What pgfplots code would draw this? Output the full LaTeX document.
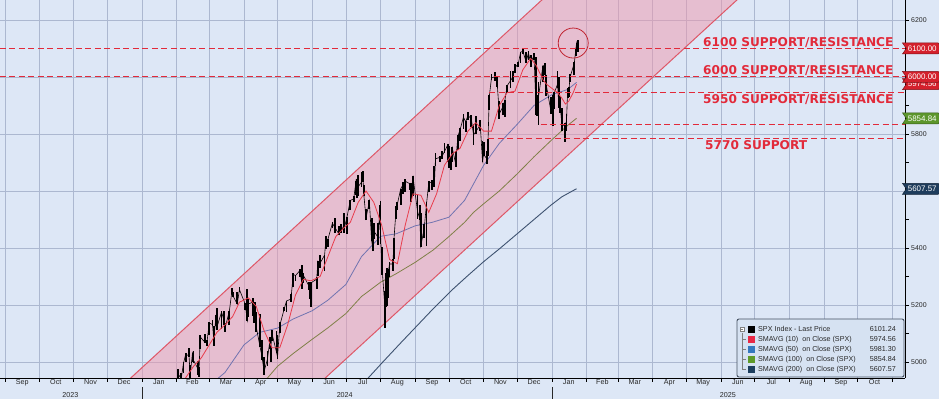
\documentclass[border=0pt]{standalone}
\usepackage{pgfplots}
\pgfplotsset{compat=1.18}
\usepackage{pgfplotstable}
\usepackage{fontspec}
\setmainfont{Liberation Sans}
\newfontfamily\dvs{DejaVu Sans}
\usetikzlibrary{shapes.symbols}
\definecolor{bgc}{RGB}{221,231,246}
\definecolor{gridc}{RGB}{172,184,208}
\definecolor{bandfill}{RGB}{240,150,172}
\definecolor{bandline}{RGB}{222,88,104}
\definecolor{sr}{RGB}{226,42,58}
\definecolor{sma10}{RGB}{232,60,76}
\definecolor{sma50}{RGB}{112,116,176}
\definecolor{sma100}{RGB}{128,128,72}
\definecolor{sma200}{RGB}{62,82,112}
\definecolor{tagred}{RGB}{212,32,44}
\definecolor{taggreen}{RGB}{92,150,44}
\definecolor{tagnavy}{RGB}{30,60,92}
\definecolor{legblue}{RGB}{52,120,190}
\definecolor{leggreen}{RGB}{94,155,42}
\definecolor{legnavy}{RGB}{28,62,94}
\definecolor{legred}{RGB}{232,40,70}
\definecolor{legbg}{RGB}{214,226,242}
\definecolor{legframe}{RGB}{70,82,98}
\definecolor{txt}{RGB}{40,40,40}

\pgfplotstableread{
d c h l
28 4928 4929 4887
30 4846 4932 4845
31 4906 4906 4853
32 4959 4975 4907
35 4942 4963 4918
37 4995 4999 4963
39 5027 5030 4999
42 5022 5048 5016
43 4953 4989 4920
45 5030 5032 4999
46 5006 5039 4998
50 4976 5002 4954
51 4982 4983 4946
52 5088 5094 5045
56 5070 5097 5068
58 5069 5077 5058
60 5137 5140 5094
63 5131 5149 5127
64 5079 5127 5057
66 5157 5165 5128
67 5124 5190 5114
71 5175 5179 5115
73 5150 5180 5129
74 5117 5136 5104
78 5179 5180 5131
80 5241 5261 5240
81 5234 5246 5229
85 5203 5246 5203
87 5254 5264 5246
92 5205 5208 5184
94 5147 5256 5146
95 5204 5222 5157
99 5210 5224 5160
100 5161 5178 5138
101 5199 5211 5139
102 5123 5175 5107
105 5061 5168 5052
107 5022 5077 5007
109 4967 5019 4953
112 5010 5038 4987
114 5071 5089 5047
115 5048 5057 5001
116 5100 5114 5073
120 5036 5110 5035
121 5018 5096 5011
123 5128 5139 5102
127 5187 5192 5178
129 5214 5215 5177
133 5221 5238 5209
135 5308 5311 5263
137 5303 5305 5283
141 5321 5325 5297
143 5268 5341 5257
144 5305 5311 5279
149 5267 5282 5254
150 5235 5280 5222
151 5278 5280 5192
156 5291 5298 5257
157 5354 5355 5303
159 5347 5375 5331
163 5375 5376 5320
164 5421 5441 5398
166 5431 5432 5403
170 5487 5490 5471
172 5473 5505 5451
176 5448 5478 5447
178 5478 5483 5452
180 5460 5523 5451
183 5509 5510 5448
186 5567 5570 5535
189 5572 5583 5562
191 5633 5635 5586
192 5585 5642 5576
193 5615 5655 5584
196 5631 5666 5614
197 5667 5669 5632
198 5588 5622 5584
200 5505 5538 5497
203 5564 5570 5536
205 5427 5505 5425
206 5399 5481 5391
207 5459 5488 5430
211 5436 5487 5412
212 5522 5551 5491
213 5446 5566 5414
214 5347 5403 5306
217 5186 5250 5120
218 5240 5312 5193
219 5199 5330 5195
220 5319 5328 5224
221 5344 5351 5300
224 5344 5360 5318
225 5434 5435 5360
227 5543 5546 5502
228 5554 5563 5535
231 5608 5608 5550
233 5621 5633 5591
235 5634 5642 5596
239 5626 5628 5602
240 5592 5628 5561
242 5648 5651 5582
246 5528 5585 5503
248 5503 5552 5499
249 5408 5522 5402
252 5471 5484 5434
254 5554 5560 5406
256 5627 5636 5595
259 5633 5637 5604
261 5618 5689 5615
262 5713 5733 5686
266 5718 5722 5701
268 5722 5741 5712
270 5738 5767 5733
273 5762 5765 5703
274 5709 5757 5681
276 5700 5718 5673
277 5751 5753 5703
280 5696 5739 5683
282 5792 5796 5745
284 5815 5822 5775
287 5859 5871 5819
289 5842 5846 5808
291 5865 5878 5849
294 5853 5866 5824
296 5797 5835 5762
298 5808 5862 5799
302 5832 5848 5811
304 5705 5775 5703
305 5729 5772 5723
308 5712 5741 5696
309 5782 5783 5724
310 5929 5936 5884
312 5996 6012 5991
315 6001 6018 5985
317 5985 5999 5965
319 5871 5915 5854
322 5894 5909 5866
324 5918 5920 5860
326 5969 5973 5944
329 5987 6020 5963
331 5999 6020 5984
333 6032 6044 6014
336 6047 6053 6034
338 6087 6087 6050
340 6090 6099 6079
343 6053 6088 6048
345 6084 6092 6058
347 6051 6078 6035
350 6074 6085 6059
352 5872 6070 5867
353 5867 5935 5865
354 5931 5982 5832
358 6040 6040 5983
360 6038 6049 6007
361 5971 6006 5932
365 5882 5929 5869
367 5869 5936 5829
368 5942 5949 5888
371 5975 6021 5960
372 5909 6000 5890
373 5918 5928 5875
375 5827 5890 5809
378 5836 5837 5773
379 5843 5871 5811
380 5950 5960 5926
381 5937 5965 5930
382 5997 6012 5984
386 6049 6052 6006
387 6086 6100 6073
388 6119 6119 6075
389 6101 6128 6088
}\price

\pgfplotstableread{
d v
32 4890
39 4945
46 4985
53 5015
60 5060
67 5105
74 5130
81 5160
87 5210
95 5225
102 5195
109 5110
116 5050
123 5050
130 5130
137 5235
144 5290
151 5285
159 5300
166 5370
173 5440
180 5470
186 5490
193 5560
200 5600
207 5560
214 5480
221 5360
228 5345
235 5480
242 5590
249 5585
256 5525
263 5590
270 5690
277 5730
284 5750
291 5810
298 5840
305 5810
312 5810
319 5900
326 5945
333 5950
340 6025
347 6065
352 6040
358 5990
361 5975
366 5960
371 5945
375 5925
378 5905
381 5915
385 5945
388 5975
}\smaten

\pgfplotstableread{
d v
55 4910
67 4940
74 4963
91 5060
105 5104
121 5119
135 5151
152 5180
166 5217
182 5272
196 5370
213 5441
227 5450
244 5478
259 5490
274 5508
288 5567
305 5690
319 5767
335 5834
350 5900
366 5938
380 5956
388 5981
}\smafifty

\pgfplotstableread{
d v
100 4925
112 4944
121 4985
135 5030
152 5080
166 5120
182 5170
196 5230
213 5280
227 5310
244 5350
260 5393
274 5440
288 5490
296 5525
305 5555
319 5600
335 5660
350 5720
366 5780
380 5830
388 5855
}\smahundred

\pgfplotstableread{
d v
190 4915
201 4940
215 5000
230 5063
245 5125
260 5187
276 5250
290 5300
305 5352
320 5400
335 5450
350 5500
365 5550
375 5580
388 5608
}\smatwohundred

\begin{document}
\begin{tikzpicture}
\useasboundingbox (0,0) rectangle (939bp,399bp);
\fill[bgc] (0,0) rectangle (939bp,399bp);
\begin{axis}[
 at={(0,21bp)}, anchor=south west, scale only axis, width=905bp, height=378bp,
 xmin=-126.8, xmax=681.25, ymin=4944, ymax=6270,
 axis x line*=bottom, axis y line*=right,
 axis line style={black, line width=0.8bp},
 xtick={-122,-92,-61,-31,0,31,60,91,121,152,182,213,244,274,305,335,366,397,425,456,486,517,547,578,609,639,670},
 xticklabels={,,,,,,,,,,,,,,,,,,,,,,,,,,,},
 extra x ticks={-107,-77,-46,-16,15,45,75,106,136,167,197,228,259,289,320,350,381,411,440,471,501,532,562,593,624,654},
 extra x tick labels={Sep,Oct,Nov,Dec,Jan,Feb,Mar,Apr,May,Jun,Jul,Aug,Sep,Oct,Nov,Dec,Jan,Feb,Mar,Apr,May,Jun,Jul,Aug,Sep,Oct},
 extra x tick style={major tick length=0pt, grid=none},
 ytick={5000,5200,...,6200},
 yticklabels={5000,5200,5400,,5800,,6200},
 minor ytick={5100,5300,...,6100},
 tick align=outside,
 major tick length=4bp, minor tick length=4bp,
 tick style={black, line width=0.6bp},
 xmajorgrids=true, ymajorgrids=true,
 grid style={gridc, line width=0.55bp},
 xticklabel style={font=\fontsize{7.2}{8}\selectfont, text=txt, inner sep=0pt, text height=5bp, text depth=1.5bp, yshift=-1bp},
 yticklabel style={font=\fontsize{7}{8}\selectfont, text=txt, inner sep=0pt, xshift=2bp},
]
% channel band
\addplot[draw=none, fill=bandfill, fill opacity=0.5] coordinates {(-10.7,4944) (357.1,6270) (531.25,6270) (163.4,4944)} -- cycle;
\addplot[bandline, line width=1bp] coordinates {(-20,4908) (370,6317)};
\addplot[bandline, line width=1bp] coordinates {(155,4913) (545,6320)};
% moving averages
\addplot[sma200, line width=0.9bp] table[x=d,y=v] {\smatwohundred};
\addplot[sma100, line width=0.8bp] table[x=d,y=v] {\smahundred};
\addplot[sma50, line width=0.8bp] table[x=d,y=v] {\smafifty};
% price
\addplot[black, line width=0.6bp, error bars/.cd, y dir=both, y explicit, error mark=none,
  error bar style={black, line width=1.8bp}]
  table[x=d, y=c, y error plus expr=\thisrow{h}-\thisrow{c}, y error minus expr=\thisrow{c}-\thisrow{l}] {\price};
\addplot[sma10, line width=0.8bp] table[x=d,y=v] {\smaten};
% support / resistance lines
\addplot[sr, line width=1bp, dash pattern=on 6bp off 3.5bp] coordinates {(-127,6100) (682,6100)};
\addplot[sr, line width=1bp, dash pattern=on 6bp off 3.5bp] coordinates {(-127,6000) (682,6000)};
\addplot[sr, line width=1bp, dash pattern=on 6bp off 3.5bp] coordinates {(310,5945) (682,5945)};
\addplot[sr, line width=1bp, dash pattern=on 6bp off 3.5bp] coordinates {(356,5835) (682,5835)};
\addplot[sr, line width=1bp, dash pattern=on 6bp off 3.5bp] coordinates {(309,5785) (682,5785)};
% coordinates for annotations
\coordinate (circ) at (axis cs:385,6119);
\coordinate (t6100) at (axis cs:681.25,6100);
\coordinate (t6000) at (axis cs:681.25,6000);
\coordinate (t5974) at (axis cs:681.25,5974.56);
\coordinate (t5854) at (axis cs:681.25,5854.84);
\coordinate (t5607) at (axis cs:681.25,5607.57);
\coordinate (yr23) at (axis cs:-64,4944);
\coordinate (yr24) at (axis cs:181,4944);
\coordinate (yr25) at (axis cs:523,4944);
\coordinate (s24) at (axis cs:0,4944);
\coordinate (s25) at (axis cs:366,4944);
\end{axis}
% red circle
\draw[sr!85!black, line width=0.8bp] (circ) circle[radius=15bp];
% labels
\begin{scope}[every node/.style={text=sr, font=\dvs\bfseries\fontsize{12.2}{13}\selectfont, inner sep=0pt, anchor=base west}]
\node at (703bp,352.3bp) {6100 SUPPORT/RESISTANCE};
\node at (703bp,324.7bp) {6000 SUPPORT/RESISTANCE};
\node at (703bp,295.7bp) {5950 SUPPORT/RESISTANCE};
\node at (705bp,249bp) {5770 SUPPORT};
\end{scope}
% tags
\begin{scope}[every node/.style={signal, signal from=west, signal pointer angle=110, text=white,
   font=\fontsize{8}{9}\selectfont, inner xsep=1.5bp, inner ysep=1.2bp, minimum height=11bp, anchor=west, line width=0.5bp}]
\node[fill=tagred, draw=tagred!60!black] at ([xshift=1bp]t5974) {5974.56};
\node[fill=tagred, draw=tagred!60!black] at ([xshift=1bp]t6000) {6000.00};
\node[fill=tagred, draw=tagred!60!black] at ([xshift=1bp]t6100) {6100.00};
\node[fill=taggreen, draw=taggreen!60!black] at ([xshift=1bp]t5854) {5854.84};
\node[fill=tagnavy, draw=tagnavy!60!black] at ([xshift=1bp]t5607) {5607.57};
\end{scope}
% years
\begin{scope}[every node/.style={text=txt, font=\fontsize{7.2}{8}\selectfont, inner sep=0pt}]
\node at ([yshift=-17bp]yr23) {2023};
\node at ([yshift=-17bp]yr24) {2024};
\node at ([yshift=-17bp]yr25) {2025};
\end{scope}
\draw[txt, line width=0.6bp] ([yshift=-9bp]s24) -- ([yshift=-22bp]s24);
\draw[txt, line width=0.6bp] ([yshift=-9bp]s25) -- ([yshift=-22bp]s25);
% legend
\draw[fill=legbg, draw=legframe, line width=0.9bp, rounded corners=2bp] (737bp,22bp) rectangle (904bp,80bp);
\draw[gray, line width=0.4bp] (742bp,66bp) -- (742bp,29.7bp);
\foreach \yy in {59.7,49.7,39.7,29.7} {\draw[gray, line width=0.4bp] (742bp,\yy bp) -- (746bp,\yy bp);}
\draw[gray, fill=white, line width=0.4bp] (740bp,67.7bp) rectangle (744bp,71.7bp);
\draw[gray, line width=0.4bp] (740.8bp,69.7bp) -- (743.2bp,69.7bp);
\fill[black] (748bp,66.2bp) rectangle (755bp,73.2bp);
\fill[legred] (748bp,56.2bp) rectangle (755bp,63.2bp);
\fill[legblue] (748bp,46.2bp) rectangle (755bp,53.2bp);
\fill[leggreen] (748bp,36.2bp) rectangle (755bp,43.2bp);
\fill[legnavy] (748bp,26.2bp) rectangle (755bp,33.2bp);
\begin{scope}[every node/.style={text=txt, font=\fontsize{7.2}{8}\selectfont, inner sep=0pt}]
\node[anchor=west] at (758bp,69.7bp) {SPX Index - Last Price};
\node[anchor=west] at (758bp,59.7bp) {SMAVG (10) \ on Close (SPX)};
\node[anchor=west] at (758bp,49.7bp) {SMAVG (50) \ on Close (SPX)};
\node[anchor=west] at (758bp,39.7bp) {SMAVG (100) \ on Close (SPX)};
\node[anchor=west] at (758bp,29.7bp) {SMAVG (200) \ on Close (SPX)};
\node[anchor=east] at (896bp,69.7bp) {6101.24};
\node[anchor=east] at (896bp,59.7bp) {5974.56};
\node[anchor=east] at (896bp,49.7bp) {5981.30};
\node[anchor=east] at (896bp,39.7bp) {5854.84};
\node[anchor=east] at (896bp,29.7bp) {5607.57};
\end{scope}
\end{tikzpicture}
\end{document}
